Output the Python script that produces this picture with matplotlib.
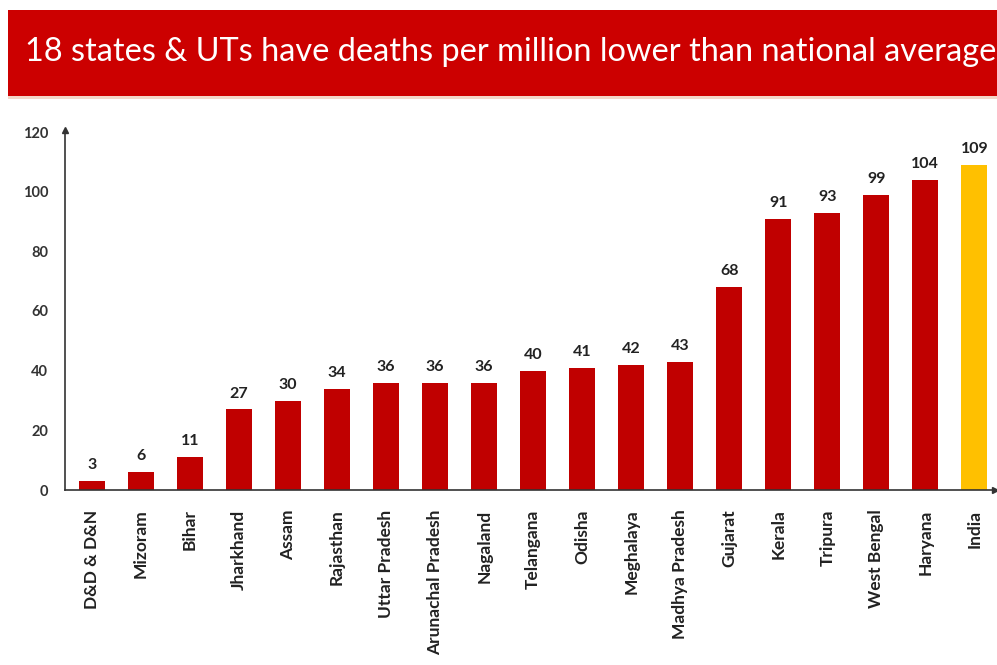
import matplotlib.pyplot as plt
from matplotlib.patches import Rectangle

# data
states = ['D&D & D&N', 'Mizoram', 'Bihar', 'Jharkhand', 'Assam', 'Rajasthan',
          'Uttar Pradesh', 'Arunachal Pradesh', 'Nagaland', 'Telangana', 'Odisha',
          'Meghalaya', 'Madhya Pradesh', 'Gujarat', 'Kerala', 'Tripura',
          'West Bengal', 'Haryana', 'India']
deaths_per_million = [3, 6, 11, 27, 30, 34, 36, 36, 36, 40, 41, 42, 43, 68, 91, 93, 99, 104, 109]
yticks = [0, 20, 40, 60, 80, 100, 120]
title = '18 states & UTs have deaths per million lower than national average'

RED = '#C00000'
GOLD = '#FFC000'
W, H = 997, 665

fig = plt.figure(figsize=(W / 100, H / 100), dpi=100)
fig.patch.set_facecolor('white')

# title banner
fig.patches.append(Rectangle((8 / W, 1 - 96 / H), 1, 86 / H, transform=fig.transFigure,
                             facecolor='#CC0000', edgecolor='none', zorder=0))
fig.patches.append(Rectangle((8 / W, 1 - 99 / H), 1, 3 / H, transform=fig.transFigure,
                             facecolor='#F3D6C8', edgecolor='none', zorder=0))
fig.text(25 / W, 1 - 52 / H, title, color='white', fontsize=23.4,
         family='Lato', va='center', ha='left')

ax = fig.add_axes([65 / W, 1 - 490 / H, (995 - 65) / W, (490 - 132) / H])
x = list(range(len(states)))
colors = [RED] * (len(states) - 1) + [GOLD]
ax.bar(x, deaths_per_million, width=0.53, color=colors, zorder=2)

for xi, v in zip(x, deaths_per_million):
    ax.text(xi, v + 3, str(v), ha='center', va='bottom', fontsize=11.5,
            fontweight='bold', family='Lato', color='#222222')

ax.set_xlim(-0.55, 18.42)
ax.set_ylim(0, 120)
ax.set_yticks(yticks)
ax.set_yticklabels([str(t) for t in yticks], fontsize=10.5, fontweight='bold',
                   family='Lato', color='#333333')
ax.set_xticks(x)
ax.set_xticklabels(states, rotation=90, fontsize=12.5, fontweight='bold',
                   family='Lato', color='#222222')
ax.tick_params(axis='both', length=0)
ax.tick_params(axis='y', pad=12)
ax.tick_params(axis='x', pad=14)

for s in ['top', 'right']:
    ax.spines[s].set_visible(False)
for s in ['left', 'bottom']:
    ax.spines[s].set_color('#333333')
    ax.spines[s].set_linewidth(1.2)

# axis arrowheads
ax.plot([0], [1.005], marker='^', markersize=5, color='#333333',
        transform=ax.transAxes, clip_on=False)
ax.plot([1.0], [0], marker='>', markersize=5, color='#333333',
        transform=ax.transAxes, clip_on=False)

fig.savefig('out.png', dpi=100)
